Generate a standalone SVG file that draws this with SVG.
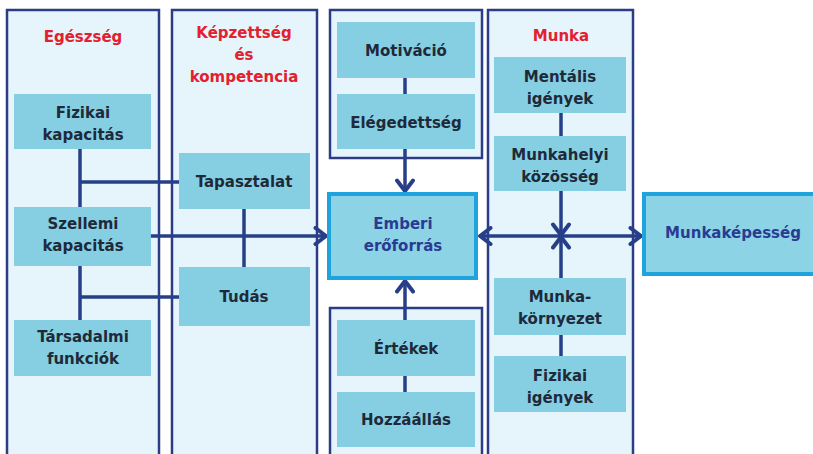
<svg xmlns="http://www.w3.org/2000/svg" width="813" height="454" viewBox="0 0 813 454">
<defs>
<style>
.panel{fill:#e6f4fb;stroke:#2c3c86;stroke-width:2.5}
.box{fill:#86cfe2}
.hbox{fill:#8cd3e6;stroke:#1fa3dc;stroke-width:4}
.t{font-family:"DejaVu Sans","Liberation Sans",sans-serif;font-weight:bold;font-size:15px;text-anchor:middle;fill:#1e2a3a}
.title{fill:#e2202e}
.blue{fill:#2a3b92}
.ln{stroke:#263f88;stroke-width:3.5;fill:none}
</style>
<marker id="ah" viewBox="0 0 16 20" refX="13" refY="10" markerWidth="16" markerHeight="20" markerUnits="userSpaceOnUse" orient="auto-start-reverse">
<path d="M2.5,2 L13,10 L2.5,18" fill="none" stroke="#263f88" stroke-width="4" stroke-linecap="round" stroke-linejoin="round"/>
</marker>
</defs>
<rect width="813" height="454" fill="#ffffff"/>

<g id="panel-egeszseg">
<rect class="panel" x="7" y="10" width="152" height="460"/>
<text class="t title" x="83" y="42">Egészség</text>
</g>
<g id="panel-kepzettseg">
<rect class="panel" x="172" y="10" width="145" height="460"/>
<text class="t title" x="244" y="38">Képzettség</text>
<text class="t title" x="244" y="60">és</text>
<text class="t title" x="244" y="82">kompetencia</text>
</g>
<g id="panel-motivacio">
<rect class="panel" x="330" y="10" width="152" height="148"/>
</g>
<g id="panel-ertekek">
<rect class="panel" x="330" y="308" width="152" height="160"/>
</g>
<g id="panel-munka">
<rect class="panel" x="488" y="10" width="145" height="460"/>
<text class="t title" x="561" y="41">Munka</text>
</g>

<g id="connectors">
<line class="ln" x1="80" y1="149" x2="80" y2="320"/>
<line class="ln" x1="80" y1="182" x2="179" y2="182"/>
<line class="ln" x1="80" y1="297" x2="179" y2="297"/>
<line class="ln" x1="244" y1="209" x2="244" y2="267"/>
<line class="ln" x1="151" y1="236" x2="326" y2="236" marker-end="url(#ah)"/>
<line class="ln" x1="405" y1="78" x2="405" y2="94"/>
<line class="ln" x1="405" y1="149" x2="405" y2="191" marker-end="url(#ah)"/>
<line class="ln" x1="405" y1="376" x2="405" y2="392"/>
<line class="ln" x1="405" y1="320" x2="405" y2="281" marker-end="url(#ah)"/>
<line class="ln" x1="561" y1="113" x2="561" y2="136"/>
<line class="ln" x1="561" y1="191" x2="561" y2="235" marker-end="url(#ah)"/>
<line class="ln" x1="561" y1="335" x2="561" y2="356"/>
<line class="ln" x1="561" y1="278" x2="561" y2="237" marker-end="url(#ah)"/>
<line class="ln" x1="480" y1="236" x2="641" y2="236" marker-start="url(#ah)" marker-end="url(#ah)"/>
</g>

<g id="fizikai-kapacitas">
<rect class="box" x="14" y="94" width="137" height="55"/>
<text class="t" x="83" y="118">Fizikai</text>
<text class="t" x="83" y="140">kapacitás</text>
</g>
<g id="szellemi-kapacitas">
<rect class="box" x="14" y="207" width="137" height="59"/>
<text class="t" x="83" y="229">Szellemi</text>
<text class="t" x="83" y="251">kapacitás</text>
</g>
<g id="tarsadalmi-funkciok">
<rect class="box" x="14" y="320" width="137" height="56"/>
<text class="t" x="83" y="342">Társadalmi</text>
<text class="t" x="83" y="364">funkciók</text>
</g>
<g id="tapasztalat">
<rect class="box" x="179" y="153" width="131" height="56"/>
<text class="t" x="244" y="187">Tapasztalat</text>
</g>
<g id="tudas">
<rect class="box" x="179" y="267" width="131" height="59"/>
<text class="t" x="244" y="302">Tudás</text>
</g>
<g id="motivacio">
<rect class="box" x="337" y="22" width="138" height="56"/>
<text class="t" x="406" y="56">Motiváció</text>
</g>
<g id="elegedettseg">
<rect class="box" x="337" y="94" width="138" height="55"/>
<text class="t" x="406" y="128">Elégedettség</text>
</g>
<g id="emberi-eroforras">
<rect class="hbox" x="329" y="194" width="147" height="84"/>
<text class="t blue" x="403" y="229">Emberi</text>
<text class="t blue" x="403" y="251">erőforrás</text>
</g>
<g id="ertekek">
<rect class="box" x="337" y="320" width="138" height="56"/>
<text class="t" x="406" y="354">Értékek</text>
</g>
<g id="hozzaallas">
<rect class="box" x="337" y="392" width="138" height="55"/>
<text class="t" x="406" y="425">Hozzáállás</text>
</g>
<g id="mentalis-igenyek">
<rect class="box" x="494" y="57" width="132" height="56"/>
<text class="t" x="560" y="82">Mentális</text>
<text class="t" x="560" y="104">igények</text>
</g>
<g id="munkahelyi-kozosseg">
<rect class="box" x="494" y="136" width="132" height="55"/>
<text class="t" x="560" y="160">Munkahelyi</text>
<text class="t" x="560" y="182">közösség</text>
</g>
<g id="munkakornyezet">
<rect class="box" x="494" y="278" width="132" height="57"/>
<text class="t" x="560" y="302">Munka-</text>
<text class="t" x="560" y="324">környezet</text>
</g>
<g id="fizikai-igenyek">
<rect class="box" x="494" y="356" width="132" height="56"/>
<text class="t" x="560" y="381">Fizikai</text>
<text class="t" x="560" y="403">igények</text>
</g>
<g id="munkakepesseg">
<rect class="hbox" x="644" y="194" width="175" height="80"/>
<text class="t blue" x="733" y="238">Munkaképesség</text>
</g>
</svg>
